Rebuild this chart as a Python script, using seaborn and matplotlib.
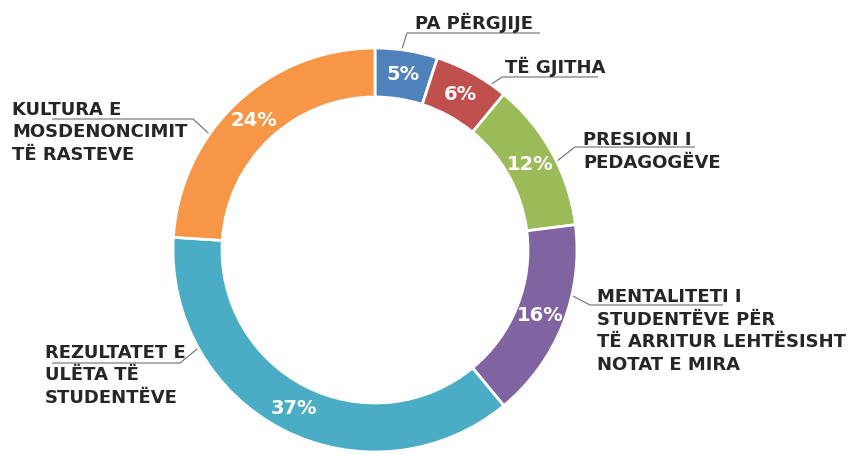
import numpy as np
import seaborn as sns
import matplotlib.pyplot as plt

# data
categories = [
    "PA PËRGJIJE",
    "TË GJITHA",
    "PRESIONI I\nPEDAGOGËVE",
    "MENTALITETI I\nSTUDENTËVE PËR\nTË ARRITUR LEHTËSISHT\nNOTAT E MIRA",
    "REZULTATET E\nULËTA TË\nSTUDENTËVE",
    "KULTURA E\nMOSDENONCIMIT\nTË RASTEVE",
]
shares = [5, 6, 12, 16, 37, 24]
slice_colors = ["#4F81BD", "#C0504D", "#9BBB59", "#8064A2", "#4BACC6", "#F79646"]

W, H = 852, 455


def px(x, y):
    # pixel position (top-left origin) -> axis coords (y up)
    return x, H - y


# layout: label anchor (left x, baseline of the last line), leader start angle
# (deg clockwise from top), elbow and end of the leader line
label_pos = [(415, 29), (505, 73), (583, 168), (597, 370), (45, 403), (12, 160)]
leader_angle = [7.6, 35, 64, 103, 241, 305]
leader_elbow = [(407, 33), (502, 77), (575, 147), (590, 305), (180, 363), (193, 119)]
leader_end = [(540, 33), (598, 77), (695, 147), (723, 305), (52, 363), (52, 119)]

center = px(375, 250)
outer_r = 202
ring_w = 49

sns.set_theme(style="white")
plt.rcParams["font.family"] = ["DejaVu Sans"]

fig = plt.figure(figsize=(W / 100, H / 100), dpi=100)
ax = fig.add_axes([0, 0, 1, 1])

palette = sns.color_palette(slice_colors)
wedges, texts, pcts = ax.pie(
    shares,
    colors=palette,
    startangle=90,
    counterclock=False,
    center=center,
    radius=outer_r,
    autopct=lambda p: f"{p:.0f}%",
    pctdistance=1 - ring_w / 2 / outer_r,
    wedgeprops=dict(width=ring_w, edgecolor="white", linewidth=2),
    textprops=dict(color="white", fontsize=14, fontweight="bold"),
)

for i, label in enumerate(categories):
    a = np.deg2rad(leader_angle[i])
    sx = center[0] + outer_r * np.sin(a)
    sy = center[1] + outer_r * np.cos(a)
    ex, ey = px(*leader_elbow[i])
    fx, fy = px(*leader_end[i])
    ax.plot([sx, ex, fx], [sy, ey, fy], color="#6f6f6f", lw=0.8,
            solid_capstyle="butt", zorder=0)
    tx, ty = px(*label_pos[i])
    ax.text(tx, ty, label, ha="left", va="baseline", fontsize=13,
            fontweight="bold", color="#262626", linespacing=1.33)

ax.set_xlim(0, W)
ax.set_ylim(0, H)
ax.set_aspect("equal")
ax.set_axis_off()

fig.savefig("out.png", dpi=100)
